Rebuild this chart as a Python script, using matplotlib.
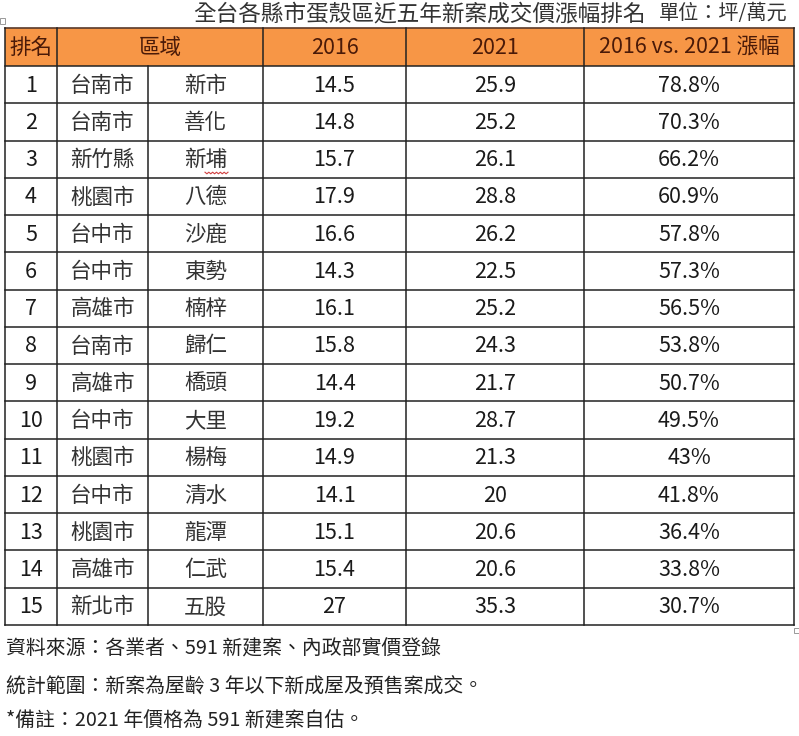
import matplotlib
matplotlib.use("Agg")
import matplotlib.pyplot as plt
import numpy as np
from matplotlib.patches import Rectangle

plt.rcParams['font.family'] = ['Noto Sans CJK TC', 'DejaVu Sans']

title = "全台各縣市蛋殼區近五年新案成交價漲幅排名"
unit = "單位：坪/萬元"
headers = ["排名", "區域", "2016", "2021", "2016 vs. 2021 漲幅"]

ranks = list(range(1, 16))
cities = ["台南市", "台南市", "新竹縣", "桃園市", "台中市", "台中市", "高雄市", "台南市",
          "高雄市", "台中市", "桃園市", "台中市", "桃園市", "高雄市", "新北市"]
districts = ["新市", "善化", "新埔", "八德", "沙鹿", "東勢", "楠梓", "歸仁",
             "橋頭", "大里", "楊梅", "清水", "龍潭", "仁武", "五股"]
price_2016 = ["14.5", "14.8", "15.7", "17.9", "16.6", "14.3", "16.1", "15.8",
              "14.4", "19.2", "14.9", "14.1", "15.1", "15.4", "27"]
price_2021 = ["25.9", "25.2", "26.1", "28.8", "26.2", "22.5", "25.2", "24.3",
              "21.7", "28.7", "21.3", "20", "20.6", "20.6", "35.3"]
change = ["78.8%", "70.3%", "66.2%", "60.9%", "57.8%", "57.3%", "56.5%", "53.8%",
          "50.7%", "49.5%", "43%", "41.8%", "36.4%", "33.8%", "30.7%"]

notes = ["資料來源：各業者、591 新建案、內政部實價登錄",
         "統計範圍：新案為屋齡 3 年以下新成屋及預售案成交。",
         "*備註：2021 年價格為 591 新建案自估。"]

# layout in pixels
W, H = 799, 736
col_x = [5, 57, 148, 263, 406, 584, 794]
top, head_bot, bottom = 28, 66, 625
row_h = (bottom - head_bot) / len(ranks)

fig = plt.figure(figsize=(W / 100, H / 100), dpi=100)
ax = fig.add_axes([0, 0, 1, 1])
ax.set_xlim(0, W)
ax.set_ylim(H, 0)
ax.axis("off")

# header
ax.add_patch(Rectangle((col_x[0], top), col_x[-1] - col_x[0], head_bot - top,
                       facecolor="#F79646", edgecolor="none"))
head_col = "#4a1a08"
hy = (top + head_bot) / 2 + 1
hx = [(col_x[0] + col_x[1]) / 2, (col_x[1] + col_x[3]) / 2,
      (col_x[3] + col_x[4]) / 2, (col_x[4] + col_x[5]) / 2, (col_x[5] + col_x[6]) / 2]
for x, t in zip(hx, headers):
    ax.text(x, hy, t, ha="center", va="center", fontsize=15.5, color=head_col)

# body
body_col = "#1a1a1a"
for i in range(len(ranks)):
    yc = head_bot + row_h * (i + 0.5) + 1
    vals = [str(ranks[i]), cities[i], districts[i], price_2016[i], price_2021[i], change[i]]
    for j, v in enumerate(vals):
        xc = (col_x[j] + col_x[j + 1]) / 2
        c = "#333333" if j in (1, 2) else body_col
        ax.text(xc, yc, v, ha="center", va="center", fontsize=15.5, color=c)

# spell-check squiggle under 新埔
sx = np.linspace(205, 228, 13)
sy = 173 + np.where(np.arange(13) % 2 == 0, -0.8, 0.8)
ax.plot(sx, sy, color="#d04040", lw=0.8)

# grid lines
lc = "#222222"
ax.plot([col_x[0], col_x[-1]], [top, top], color="#5a3a2a", lw=1.2)
for k in range(len(ranks) + 1):
    y = head_bot + row_h * k
    ax.plot([col_x[0], col_x[-1]], [y, y], color=lc, lw=1.1)
for j, x in enumerate(col_x):
    y0 = head_bot if j == 2 else top
    ax.plot([x, x], [y0, bottom], color=lc, lw=1.1)

# title and unit
ax.text(193, 14, title, ha="left", va="center", fontsize=16.3, color="#333333")
ax.text(787, 14, unit, ha="right", va="center", fontsize=14.5, color="#333333")

# notes
for y, t in zip([649, 687, 721], notes):
    ax.text(6, y, t, ha="left", va="center", fontsize=14.3, color="#222222")

# table handles
ax.add_patch(Rectangle((0, 18), 5, 6, facecolor="white", edgecolor="#999999", lw=0.7))
ax.add_patch(Rectangle((794, 628), 5, 5, facecolor="white", edgecolor="#999999", lw=0.7))

fig.savefig("out.png", dpi=100)
